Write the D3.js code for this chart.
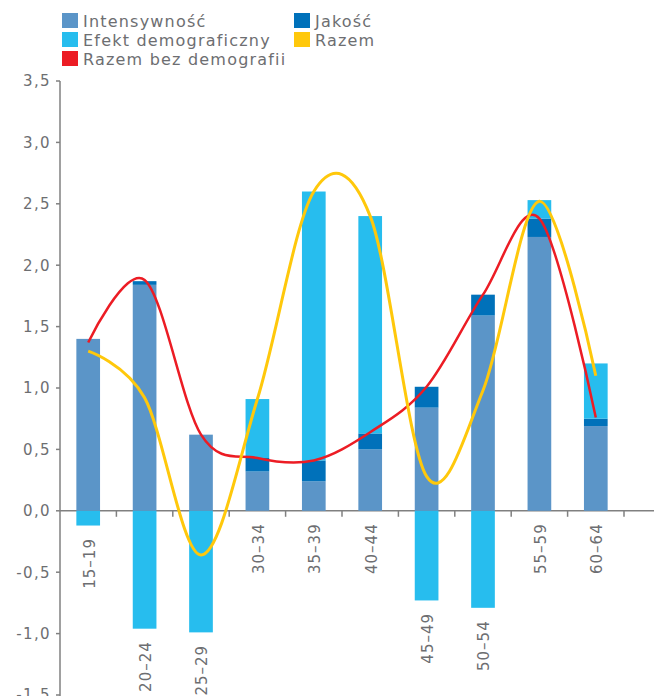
<!DOCTYPE html>
<html>
<head>
<meta charset="utf-8">
<script src="https://cdn.jsdelivr.net/npm/d3@7"></script>
<style>
    body { margin: 0; background: #fff; }
    text { font-family: "DejaVu Sans", sans-serif; fill: #6d6e71; }
</style>
</head>
<body>
<div id="chart"></div>
<script>
// age groups and stacked components
const ageGroups = ["15–19", "20–24", "25–29", "30–34", "35–39", "40–44", "45–49", "50–54", "55–59", "60–64"];
const intensywnosc = [1.40, 1.84, 0.62, 0.32, 0.24, 0.50, 0.84, 1.59, 2.23, 0.69];
const jakosc = [0.00, 0.03, 0.00, 0.11, 0.17, 0.13, 0.17, 0.17, 0.15, 0.06];
const efektDemograficzny = [-0.12, -0.96, -0.99, 0.48, 2.19, 1.77, -0.73, -0.79, 0.15, 0.45];

// smoothed lines, one value per age group
const razem = [1.30, 0.92, -0.36, 0.91, 2.60, 2.40, 0.28, 0.98, 2.52, 1.10];
const razemBezDemografii = [1.37, 1.88, 0.62, 0.43, 0.41, 0.64, 1.01, 1.76, 2.38, 0.76];

const yTicks = [-1.5, -1.0, -0.5, 0.0, 0.5, 1.0, 1.5, 2.0, 2.5, 3.0, 3.5];

const colors = {
    intens: "#5b95c8",
    jakosc: "#0071ba",
    efekt: "#27bdee",
    razem: "#ffc80b",
    bez: "#ec1c24",
};

const width = 654, height = 696;
const svg = d3.select("#chart").append("svg")
    .attr("width", width)
    .attr("height", height);

const x = d3.scaleBand()
    .domain(ageGroups)
    .range([60, 624])
    .paddingInner(0.58)
    .paddingOuter(0.29);

const cx = (g) => x(g) + x.bandwidth() / 2;

const y = d3.scaleLinear().domain([-1.5, 3.5]).range([695, 81]);

const fmt = (v) => d3.format(".1f")(v).replace(".", ",").replace("−", "-");

// y axis
svg.append("line")
    .attr("x1", 60).attr("x2", 60)
    .attr("y1", y(3.5)).attr("y2", height)
    .attr("stroke", "#808080").attr("stroke-width", 1.5);

svg.append("g").selectAll("line")
    .data(yTicks)
    .join("line")
    .attr("x1", 56).attr("x2", 60)
    .attr("y1", (d) => y(d)).attr("y2", (d) => y(d))
    .attr("stroke", "#808080").attr("stroke-width", 1.5);

svg.append("g").selectAll("text")
    .data(yTicks)
    .join("text")
    .attr("x", 51)
    .attr("y", (d) => y(d))
    .attr("dy", "0.36em")
    .attr("text-anchor", "end")
    .style("font-size", "15px")
    .style("letter-spacing", "1.4px")
    .text(fmt);

// zero line with ticks at group boundaries
svg.append("line")
    .attr("x1", 60).attr("x2", width)
    .attr("y1", y(0)).attr("y2", y(0))
    .attr("stroke", "#808080").attr("stroke-width", 1.5);

svg.append("g").selectAll("line")
    .data(ageGroups)
    .join("line")
    .attr("x1", (d) => cx(d) + x.step() / 2)
    .attr("x2", (d) => cx(d) + x.step() / 2)
    .attr("y1", y(0)).attr("y2", y(0) + 6)
    .attr("stroke", "#808080").attr("stroke-width", 1.5);

// stacked bars
const rows = ageGroups.map((g, i) => ({
    group: g,
    intens: intensywnosc[i],
    jakosc: jakosc[i],
    efekt: efektDemograficzny[i],
}));

const series = d3.stack()
    .keys(["intens", "jakosc", "efekt"])
    .offset(d3.stackOffsetDiverging)(rows);

svg.append("g").selectAll("g")
    .data(series)
    .join("g")
    .attr("fill", (s) => colors[s.key])
    .selectAll("rect")
    .data((s) => s)
    .join("rect")
    .attr("x", (d) => x(d.data.group))
    .attr("width", x.bandwidth())
    .attr("y", (d) => y(Math.max(d[0], d[1])))
    .attr("height", (d) => Math.abs(y(d[0]) - y(d[1])));

// category labels, below the lowest part of each bar
svg.append("g").selectAll("text")
    .data(rows)
    .join("text")
    .attr("transform", (d) => {
        const low = Math.min(0, d.intens, d.jakosc, d.efekt);
        return `translate(${cx(d.group) + 1},${y(low) + 12.5}) rotate(-90)`;
    })
    .attr("dy", "0.36em")
    .attr("text-anchor", "end")
    .style("font-size", "15px")
    .style("letter-spacing", "1px")
    .text((d) => d.group);

// smoothed lines (uniform Catmull-Rom)
const line = d3.line()
    .x((d, i) => cx(ageGroups[i]))
    .y((d) => y(d))
    .curve(d3.curveCardinal.tension(0));

svg.append("path")
    .attr("d", line(razemBezDemografii))
    .attr("fill", "none")
    .attr("stroke", colors.bez)
    .attr("stroke-width", 2.5);

svg.append("path")
    .attr("d", line(razem))
    .attr("fill", "none")
    .attr("stroke", colors.razem)
    .attr("stroke-width", 3);

// legend
const legend = [
    { label: "Intensywność", color: colors.intens, col: 0, row: 0 },
    { label: "Efekt demograficzny", color: colors.efekt, col: 0, row: 1 },
    { label: "Razem bez demografii", color: colors.bez, col: 0, row: 2 },
    { label: "Jakość", color: colors.jakosc, col: 1, row: 0 },
    { label: "Razem", color: colors.razem, col: 1, row: 1 },
];

const lg = svg.append("g").selectAll("g")
    .data(legend)
    .join("g")
    .attr("transform", (d) => `translate(${d.col ? 294 : 62},${13 + d.row * 19})`);

lg.append("rect")
    .attr("width", 16).attr("height", 15)
    .attr("fill", (d) => d.color);

lg.append("text")
    .attr("x", 21)
    .attr("y", 13.5)
    .style("font-size", "16px")
    .style("letter-spacing", "1.2px")
    .text((d) => d.label);
</script>
</body>
</html>
